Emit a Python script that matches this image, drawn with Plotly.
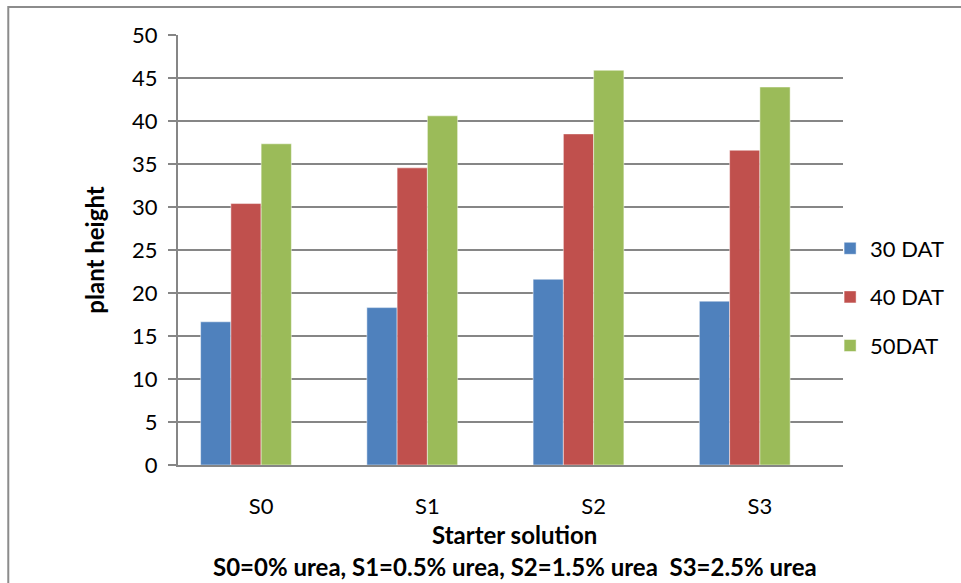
import plotly.graph_objects as go

categories = ["S0", "S1", "S2", "S3"]
series_names = ["30 DAT", "40 DAT", "50DAT"]
dat30 = [16.65, 18.3, 21.6, 19.05]
dat40 = [30.4, 34.55, 38.5, 36.6]
dat50 = [37.35, 40.6, 45.9, 43.95]
colors = ["#4F81BD", "#C0504D", "#9BBB59"]
y_ticks = [0, 5, 10, 15, 20, 25, 30, 35, 40, 45, 50]

FONT = "Lato, Open Sans, sans-serif"
W, H = 961, 583
L, R, T, B = 178, 113, 35, 118
pw, ph = W - L - R, H - T - B

fig = go.Figure()
bar_w = 0.182
offsets = [-2 * bar_w, -bar_w, 0.0]
for i, (name, vals) in enumerate(zip(series_names, [dat30, dat40, dat50])):
    fig.add_trace(go.Bar(
        x=categories, y=vals, name=name,
        marker=dict(color=colors[i], line=dict(color="rgba(255,255,255,0.6)", width=0.8)),
        width=bar_w, offset=offsets[i],
        legendgroup=name,
    ))

fig.update_layout(
    width=W, height=H,
    margin=dict(l=L, r=R, t=T, b=B),
    paper_bgcolor="white", plot_bgcolor="white",
    barmode="overlay",
    font=dict(family=FONT, size=22, color="black"),
    showlegend=True,
    legend=dict(
        x=(835 - L) / pw, xanchor="left",
        y=(465 - 297) / ph, yanchor="middle",
        font=dict(size=22, family=FONT),
        tracegroupgap=17,
        bgcolor="rgba(0,0,0,0)",
    ),
    xaxis=dict(
        range=[-0.5, 3.5],
        showgrid=False, showline=True, linecolor="#868686", linewidth=2,
        ticks="", tickfont=dict(size=22, family=FONT),
        ticklabelstandoff=21,
        zeroline=False,
    ),
    yaxis=dict(
        range=[0, 50], tickvals=y_ticks,
        showgrid=True, gridcolor="#868686", gridwidth=1.5,
        showline=True, linecolor="#868686", linewidth=2,
        ticks="outside", ticklen=8, tickcolor="#868686", tickwidth=1.5,
        tickfont=dict(size=22, family=FONT),
        ticklabelstandoff=6,
        zeroline=False,
    ),
    annotations=[
        dict(text="<b>plant height</b>", xref="paper", yref="paper",
             x=(93 - L) / pw, y=(465 - 250) / ph, textangle=-90,
             showarrow=False, font=dict(size=24, family=FONT),
             xanchor="center", yanchor="middle"),
        dict(text="<b>Starter solution</b>", xref="paper", yref="paper",
             x=(517 - L) / pw, y=(465 - 534) / ph,
             showarrow=False, font=dict(size=24, family=FONT),
             xanchor="center", yanchor="middle"),
        dict(text="<b>S0=0% urea, S1=0.5% urea, S2=1.5% urea  S3=2.5% urea</b>",
             xref="paper", yref="paper",
             x=(518 - L) / pw, y=(465 - 566) / ph,
             showarrow=False, font=dict(size=24, family=FONT),
             xanchor="center", yanchor="middle"),
    ],
    shapes=[
        dict(type="rect", xref="paper", yref="paper",
             x0=(7 - L) / pw, x1=(990 - L) / pw,
             y0=(465 - 620) / ph, y1=(465 - 7) / ph,
             line=dict(color="#8C8C8C", width=2), fillcolor="rgba(0,0,0,0)",
             layer="below"),
    ],
)

fig.write_html(
    "out.html",
    config={"displayModeBar": False},
    post_script="document.body.style.margin='0';document.body.style.overflow='hidden';",
)
